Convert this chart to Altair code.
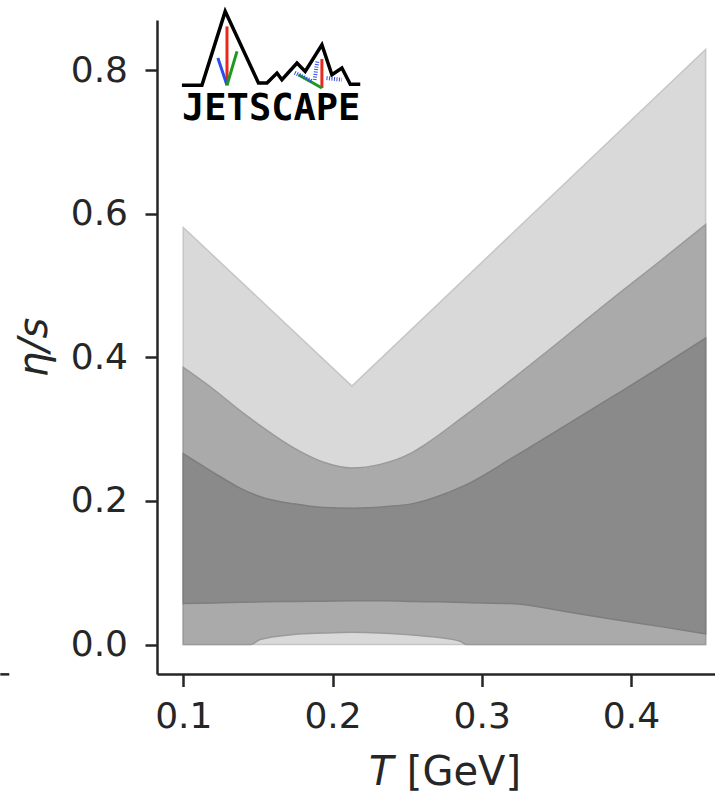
import altair as alt
import pandas as pd

# ---------------- data ----------------
# outer (lightest) band: straight V shape
T_outer = [0.100, 0.213, 0.450]
outer_hi = [0.581, 0.360, 0.829]
outer_lo = [0.0, 0.0, 0.0]

# middle band
T_mid = [0.100, 0.120, 0.138, 0.145, 0.1516, 0.174, 0.194, 0.213, 0.232,
         0.252, 0.263, 0.2855, 0.290, 0.3224, 0.355, 0.387, 0.420, 0.450]
mid_hi = [0.386, 0.356, 0.326, 0.315, 0.305, 0.274, 0.254, 0.246, 0.251,
          0.266, 0.280, 0.314, 0.321, 0.373, 0.427, 0.481, 0.535, 0.585]
mid_lo = [0.0, 0.0, 0.0, 0.0, 0.007, 0.014, 0.016, 0.017, 0.016,
          0.0135, 0.0116, 0.0046, 0.0, 0.0, 0.0, 0.0, 0.0, 0.0]

# inner (darkest) band
T_in = [0.100, 0.120, 0.138, 0.1516, 0.174, 0.194, 0.214, 0.235, 0.2554,
        0.270, 0.289, 0.322, 0.356, 0.389, 0.420, 0.450]
in_hi = [0.266, 0.240, 0.218, 0.206, 0.196, 0.191, 0.190, 0.192, 0.197,
         0.206, 0.222, 0.262, 0.305, 0.347, 0.387, 0.427]
in_lo = [0.057, 0.058, 0.059, 0.0595, 0.060, 0.0605, 0.061, 0.061, 0.060,
         0.0595, 0.0585, 0.057, 0.046, 0.035, 0.025, 0.015]

x_ticks = [0.1, 0.2, 0.3, 0.4]
y_ticks = [0.0, 0.2, 0.4, 0.6, 0.8]
x_domain = [0.0824, 0.4563]
y_domain = [-0.041, 0.870]

# JETSCAPE logo outline (in data units)
logo_mx = [0.0991, 0.1125, 0.1281, 0.1504, 0.1561, 0.1628, 0.1661, 0.1762,
           0.1817, 0.1929, 0.1996, 0.2063, 0.2119, 0.2186]
logo_my = [0.7791, 0.7791, 0.8820, 0.7822, 0.7822, 0.7961, 0.7868, 0.8100,
           0.7983, 0.8355, 0.7937, 0.8031, 0.7805, 0.7805]
logo_seg_x = [0.1293, 0.1232, 0.1360, 0.1929, 0.1772]
logo_seg_y = [0.8610, 0.8170, 0.8262, 0.8156, 0.7937]
logo_seg_x2 = [0.1293, 0.1293, 0.1293, 0.1929, 0.1929]
logo_seg_y2 = [0.7791, 0.7791, 0.7791, 0.7752, 0.7752]
logo_seg_c = ["#e8281c", "#2a4cf0", "#1d9a1d", "#e8281c", "#1d9a1d"]
spring_x = [0.1898, 0.1747, 0.1960]
spring_y = [0.8120, 0.7966, 0.7891]
spring_x2 = [0.1880, 0.1860, 0.2063]
spring_y2 = [0.7866, 0.7849, 0.7868]

INK = "#262626"
FONT = "DejaVu Sans"

# ---------------- tables ----------------
df_outer = pd.DataFrame({"T": T_outer, "hi": outer_hi, "lo": outer_lo})
df_mid = pd.DataFrame({"T": T_mid, "hi": mid_hi, "lo": mid_lo})
df_in = pd.DataFrame({"T": T_in, "hi": in_hi, "lo": in_lo})
df_logo = pd.DataFrame({"x": logo_mx, "y": logo_my, "o": list(range(len(logo_mx)))})
df_seg = pd.DataFrame({"x": logo_seg_x, "y": logo_seg_y, "x2": logo_seg_x2,
                       "y2": logo_seg_y2, "c": logo_seg_c})
df_spring = pd.DataFrame({"x": spring_x, "y": spring_y, "x2": spring_x2, "y2": spring_y2})
df_text = pd.DataFrame({"x": [0.1589], "y": [0.7463], "t": ["JETSCAPE"]})
df_stray = pd.DataFrame({"x": [-0.0226], "x2": [-0.0166], "y": [-0.0415]})

xs = alt.Scale(domain=x_domain, nice=False, zero=False)
ys = alt.Scale(domain=y_domain, nice=False, zero=False)

x_axis = alt.Axis(values=x_ticks, format=".1f", title=None, grid=False,
                  domainColor=INK, domainWidth=2.5, tickColor=INK, tickWidth=2.5,
                  tickSize=12.5, labelFont=FONT, labelFontSize=36, labelColor=INK,
                  labelPadding=13, labelFlush=False, labelOverlap=False)
y_axis = alt.Axis(values=y_ticks, format=".1f", title="η/s", grid=False,
                  domainColor=INK, domainWidth=2.5, tickColor=INK, tickWidth=2.5,
                  tickSize=12, labelFont=FONT, labelFontSize=36, labelColor=INK,
                  labelPadding=17.5, titleFont=FONT, titleFontSize=40,
                  titleFontWeight="normal", titleFontStyle="italic", titleColor=INK,
                  titlePadding=16, labelFlush=False, labelOverlap=False)


def band(df, fill, stroke, interp):
    return alt.Chart(df).mark_area(fill=fill, stroke=stroke, strokeWidth=1.5,
                                   interpolate=interp).encode(
        x=alt.X("T:Q", scale=xs, axis=x_axis),
        y=alt.Y("hi:Q", scale=ys, axis=y_axis),
        y2="lo:Q",
    )


outer = band(df_outer, "#d9d9d9", "#c6c6c6", "linear")
mid = band(df_mid, "#aaaaaa", "#9a9a9a", "monotone")
inner = band(df_in, "#8a8a8a", "#7e7e7e", "monotone")

logo_line = alt.Chart(df_logo).mark_line(color="black", strokeWidth=3.5).encode(
    x=alt.X("x:Q", scale=xs), y=alt.Y("y:Q", scale=ys), order="o:Q")
logo_seg = alt.Chart(df_seg).mark_rule(strokeWidth=3).encode(
    x=alt.X("x:Q", scale=xs), y=alt.Y("y:Q", scale=ys), x2="x2:Q", y2="y2:Q",
    color=alt.Color("c:N", scale=None))
logo_spring = alt.Chart(df_spring).mark_rule(strokeWidth=4, color="#2a4cf0",
                                             strokeDash=[1, 1.5]).encode(
    x=alt.X("x:Q", scale=xs), y=alt.Y("y:Q", scale=ys), x2="x2:Q", y2="y2:Q")
logo_text = alt.Chart(df_text).mark_text(font="DejaVu Sans Mono", fontWeight="bold",
                                         fontSize=37, color="black",
                                         baseline="middle", align="center").encode(
    x=alt.X("x:Q", scale=xs), y=alt.Y("y:Q", scale=ys), text="t:N")
stray = alt.Chart(df_stray).mark_rule(color=INK, strokeWidth=2.5).encode(
    x=alt.X("x:Q", scale=xs), x2="x2:Q", y=alt.Y("y:Q", scale=ys))

# x-axis title: italic "T" followed by upright "[GeV]"
title_T = alt.Chart(pd.DataFrame({"t": ["T"]})).mark_text(
    font=FONT, fontSize=40, fontStyle="italic", color=INK, align="left",
    baseline="alphabetic").encode(x=alt.value(212), y=alt.value(765), text="t:N")
title_unit = alt.Chart(pd.DataFrame({"t": ["[GeV]"]})).mark_text(
    font=FONT, fontSize=40, color=INK, align="right",
    baseline="alphabetic").encode(x=alt.value(364), y=alt.value(765), text="t:N")

chart = alt.layer(outer, mid, inner, logo_line, logo_seg, logo_spring, logo_text,
                  stray, title_T, title_unit).properties(
    width=558, height=654,
    autosize=alt.AutoSizeParams(type="none"),
    padding={"left": 157, "top": 20, "right": 0, "bottom": 120},
    background="white",
).configure_view(stroke=None)

chart.save("out.html", embed_options={"renderer": "svg", "actions": False})
